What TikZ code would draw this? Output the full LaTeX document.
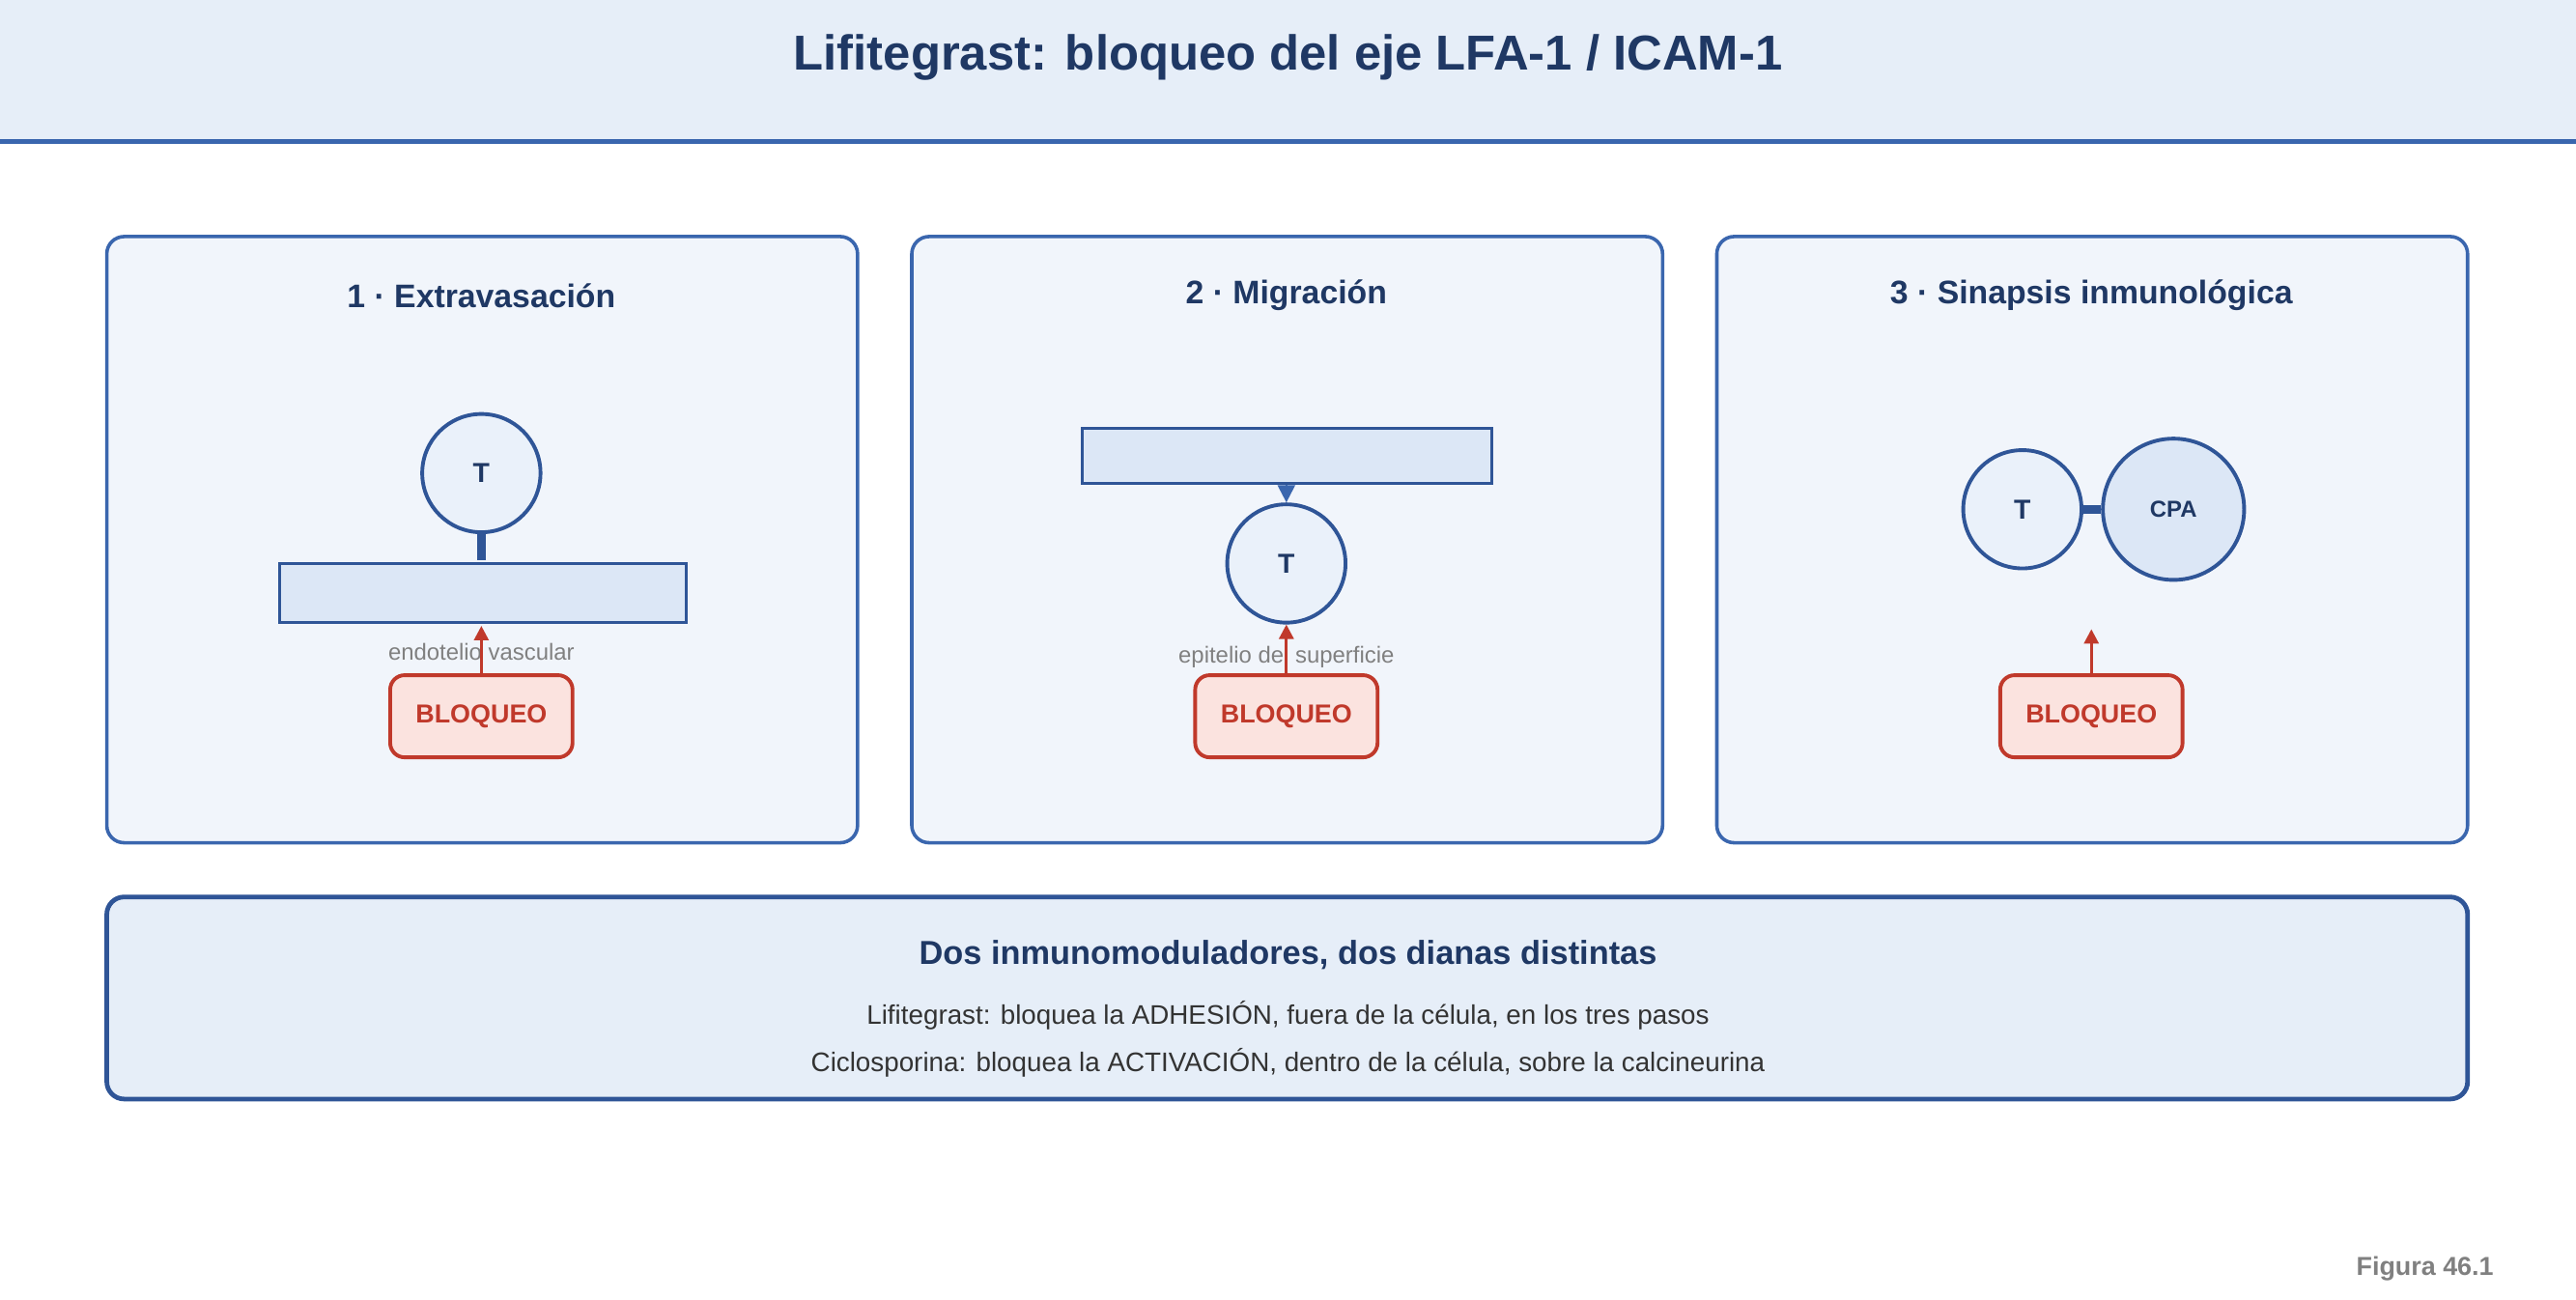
\documentclass[tikz,border=0pt]{standalone}
\usepackage{fontspec}
\setmainfont{Liberation Sans}
\usetikzlibrary{positioning,arrows.meta}
\definecolor{navy}{HTML}{1F3864}
\definecolor{edgeblue}{HTML}{3A66AE}
\definecolor{darkblue}{HTML}{2F5597}
\definecolor{bandfill}{HTML}{E6EEF8}
\definecolor{panelfill}{HTML}{F1F5FB}
\definecolor{cellfill}{HTML}{EAF1FA}
\definecolor{layerfill}{HTML}{DCE7F6}
\definecolor{blockred}{HTML}{C0392B}
\definecolor{blockfill}{HTML}{FBE3DF}
\tikzset{
  panel/.style = {draw=edgeblue, line width=1.2pt, fill=panelfill, rounded corners=6pt},
  ptitle/.style = {text=navy, font=\fontsize{11.3}{13}\selectfont\bfseries},
  tcell/.style = {circle, draw=darkblue, line width=1.3pt, fill=cellfill, minimum size=72*0.02cm, inner sep=0pt, text=navy, font=\fontsize{9.5}{11}\selectfont\bfseries},
  layer/.style = {draw=darkblue, line width=1pt, fill=layerfill},
  block/.style = {draw=blockred, line width=1.3pt, fill=blockfill, rounded corners=5pt, minimum width=111*0.02cm, minimum height=50*0.02cm, text=blockred, font=\fontsize{9}{11}\selectfont\bfseries},
  small/.style = {text=gray, font=\fontsize{8}{10}\selectfont},
  redarrow/.style = {draw=blockred, line width=1pt, -{Triangle[length=5pt,width=5pt]}},
}
\begin{document}
\begin{tikzpicture}[x=0.02cm, y=-0.02cm]
		\useasboundingbox (0,0) rectangle (1568,791);
		% header
		\fill[bandfill] (0,0) rectangle (1568,86);
		\draw[edgeblue, line width=1.6pt] (0,86)--(1568,86);
		\node[text=navy, font=\fontsize{17}{20}\selectfont\bfseries] (title) at (784,35) {Lifitegrast: bloqueo del eje LFA-1 / ICAM-1};
		%
		\draw[panel] (65,144) rectangle (522,513);
		\draw[panel] (555,144) rectangle (1012,513);
		\draw[panel] (1045,144) rectangle (1502,513);
		\node[ptitle] (p1) at (293,180) {1 · Extravasación};
		\node[ptitle] (p2) at (783,180) {2 · Migración};
		\node[ptitle] (p3) at (1273,180) {3 · Sinapsis inmunológica};
		%
		% panel 1
		\node[tcell] (t1) at (293,288) {T};
		\draw[layer] (170,343) rectangle (418,379);
		\coordinate (endo) at (293,341);
		\draw[darkblue, line width=3pt] (t1.south)--(endo);
		\node[small] (lab1) at (293,397) {endotelio vascular};
		\node[block] (b1) at (293,436) {BLOQUEO};
		\coordinate (a1) at (293,381);
		\draw[redarrow] (b1.north)--(a1);
		%
		% panel 2
		\draw[layer] (659,261) rectangle (908,294);
		\node[tcell] (t2) at (783,343) {T};
		\coordinate (epi) at (783,295);
		\draw[edgeblue, line width=0.8pt, -{Triangle[length=6pt,width=6pt]}] (epi)--(t2.north);
		\node[small] (lab2) at (783,400) {epitelio del superficie};
		\node[block] (b2) at (783,436) {BLOQUEO};
		\draw[redarrow] (b2.north)--(t2.south);
		%
		% panel 3
		\node[tcell] (t3) at (1231,310) {T};
		\node[tcell, fill=layerfill, minimum size=86*0.02cm, font=\fontsize{8}{10}\selectfont\bfseries] (cpa) at (1323,310) {CPA};
		\draw[darkblue, line width=3pt] (t3.east)--(cpa.west);
		\node[block] (b3) at (1273,436) {BLOQUEO};
		\coordinate (a3) at (1273,383);
		\draw[redarrow] (b3.north)--(a3);
		%
		% summary
		\draw[draw=darkblue, line width=1.6pt, fill=bandfill, rounded corners=6pt] (65,546) rectangle (1502,669);
		\node[ptitle, font=\fontsize{11.5}{13}\selectfont\bfseries] (sum) at (784,581) {Dos inmunomoduladores, dos dianas distintas};
		\node[text=black!80, font=\fontsize{9.3}{11}\selectfont] (l1) at (784,618) {Lifitegrast: bloquea la ADHESIÓN, fuera de la célula, en los tres pasos};
		\node[text=black!80, font=\fontsize{9.3}{11}\selectfont] (l2) at (784,647) {Ciclosporina: bloquea la ACTIVACIÓN, dentro de la célula, sobre la calcineurina};
		%
		\node[anchor=east, text=gray, font=\fontsize{9}{11}\selectfont\bfseries] (fig) at (1524,772) {Figura 46.1};
	\end{tikzpicture}
\end{document}
